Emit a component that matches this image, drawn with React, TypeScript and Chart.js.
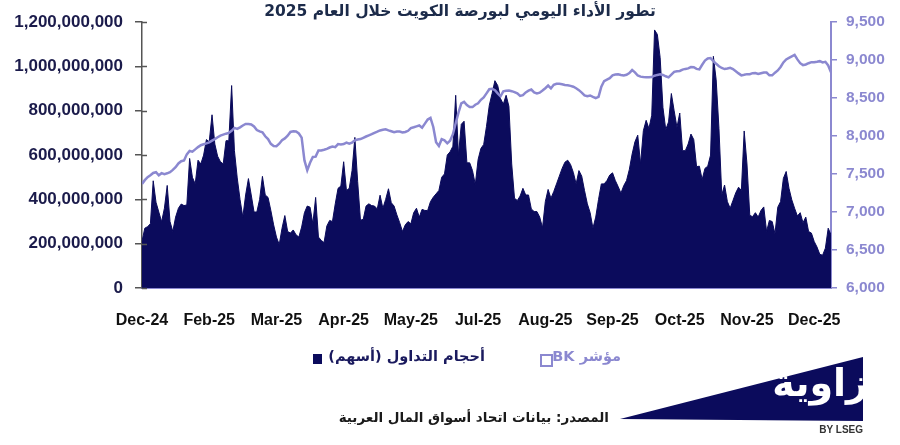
import React, { useEffect, useRef } from 'react';
import { Chart, registerables } from 'chart.js';

Chart.register(...registerables);

const TITLE = 'تطور الأداء اليومي لبورصة الكويت خلال العام 2025';
const LEGEND_VOLUME = 'أحجام التداول (أسهم)';
const LEGEND_BK = 'مؤشر BK';
const SOURCE = 'المصدر: بيانات اتحاد أسواق المال العربية';

const TICK_LABELS = ['Dec-24', 'Feb-25', 'Mar-25', 'Apr-25', 'May-25', 'Jul-25', 'Aug-25', 'Sep-25', 'Oct-25', 'Nov-25', 'Dec-25'];
const POINTS_PER_LABEL = 24;

// Daily traded volume, millions of shares
const VOLUME_M = [
  211, 270, 277, 290, 484, 387, 343, 299, 360, 463,
  300, 255, 320, 360, 379, 372, 375, 585, 500, 470,
  577, 560, 600, 670, 660, 782, 650, 595, 570, 560,
  665, 665, 914, 620, 497, 400, 320, 420, 494, 420,
  343, 343, 400, 504, 420, 409, 350, 285, 230, 196,
  270, 327, 255, 248, 262, 240, 230, 275, 340, 370,
  365, 290, 409, 230, 215, 205, 280, 305, 300, 380,
  450, 460, 570, 440, 450, 530, 680, 480, 306, 310,
  370, 380, 372, 370, 357, 419, 360, 400, 448, 385,
  370, 330, 295, 255, 285, 300, 290, 340, 360, 320,
  355, 350, 350, 390, 410, 425, 440, 500, 515, 600,
  615, 640, 870, 600, 739, 753, 565, 565, 530, 467,
  580, 630, 648, 730, 825, 878, 936, 914, 855, 830,
  870, 820, 560, 405, 395, 415, 450, 420, 420, 357,
  345, 345, 320, 272, 390, 445, 405, 435, 470, 505,
  540, 568, 577, 558, 522, 470, 530, 505, 440, 380,
  340, 270, 320, 400, 470, 470, 485, 510, 520, 485,
  458, 428, 462, 485, 535, 605, 660, 690, 560, 710,
  757, 720, 780, 1165, 1145, 1040, 815, 715, 750, 878,
  800, 725, 790, 620, 620, 650, 695, 670, 548, 550,
  490, 540, 550, 600, 1046, 940, 720, 420, 465, 390,
  360, 395, 430, 455, 440, 709, 560, 328, 322, 340,
  320, 350, 366, 255, 305, 300, 245, 365, 390, 495,
  526, 450, 398, 360, 325, 340, 295, 320, 255, 248,
  210, 185, 152, 148, 180, 270, 240,
];

// BK index close
const BK_INDEX = [
  7370, 7420, 7460, 7485, 7515, 7525, 7485, 7512, 7500, 7510,
  7525, 7555, 7590, 7640, 7670, 7680, 7760, 7805, 7795, 7825,
  7855, 7880, 7893, 7905, 7917, 7940, 7961, 7985, 8007, 8020,
  8032, 8043, 8070, 8108, 8095, 8115, 8140, 8160, 8160, 8154,
  8127, 8080, 8062, 8050, 7998, 7961, 7898, 7870, 7868, 7900,
  7946, 7970, 8005, 8055, 8065, 8060, 8035, 7980, 7680, 7550,
  7650, 7725, 7730, 7811, 7811, 7820, 7832, 7850, 7862, 7855,
  7895, 7890, 7895, 7915, 7902, 7915, 7945, 7955, 7961, 7978,
  7995, 8010, 8025, 8042, 8058, 8075, 8083, 8089, 8076, 8064,
  8052, 8060, 8060, 8048, 8055, 8070, 8105, 8116, 8128, 8140,
  8111, 8165, 8218, 8240, 8120, 7920, 7870, 7960, 7945, 7905,
  7940, 8025, 8170, 8310, 8430, 8450, 8408, 8382, 8382, 8413,
  8432, 8478, 8510, 8563, 8618, 8624, 8605, 8562, 8525, 8590,
  8598, 8600, 8592, 8580, 8563, 8530, 8540, 8575, 8598, 8613,
  8575, 8563, 8572, 8600, 8630, 8665, 8628, 8675, 8688, 8688,
  8682, 8674, 8670, 8662, 8650, 8630, 8605, 8573, 8537, 8525,
  8535, 8517, 8500, 8517, 8650, 8725, 8745, 8763, 8800, 8810,
  8815, 8806, 8800, 8808, 8830, 8870, 8840, 8798, 8783, 8777,
  8774, 8774, 8778, 8795, 8806, 8814, 8805, 8788, 8774, 8810,
  8847, 8855, 8858, 8875, 8885, 8892, 8910, 8908, 8885, 8880,
  8940, 8995, 9022, 9028, 8988, 8952, 8920, 8897, 8883, 8891,
  8900, 8883, 8855, 8826, 8800, 8807, 8816, 8816, 8829, 8831,
  8818, 8828, 8837, 8837, 8800, 8800, 8835, 8865, 8910, 8970,
  9010, 9030, 9050, 9070, 9010, 8960, 8935, 8943, 8960, 8974,
  8974, 8980, 8987, 8970, 8978, 8930, 8840,
];

const NAVY = '#0b0b5c';
const LAVENDER = '#8b88d0';
const AXIS_GREY = '#555555';

const innerTicks = {
  id: 'innerTicks',
  afterDatasetsDraw(chart: any) {
    const s = chart.scales.yVol;
    const ctx = chart.ctx;
    ctx.save();
    ctx.strokeStyle = AXIS_GREY;
    ctx.lineWidth = 1.5;
    s.ticks.forEach((t: any) => {
      const y = Math.round(s.getPixelForValue(t.value)) + 0.5;
      ctx.beginPath();
      ctx.moveTo(s.right, y);
      ctx.lineTo(s.right + 5, y);
      ctx.stroke();
    });
    ctx.restore();
  },
};

export default function App() {
  const canvasRef = useRef<HTMLCanvasElement | null>(null);

  useEffect(() => {
    if (!canvasRef.current) return;
    const volumeData = VOLUME_M.map((v, i) => ({ x: i, y: v * 1e6 }));
    const bkData = BK_INDEX.map((v, i) => ({ x: i, y: v }));
    const family = '"Liberation Sans", Arial, sans-serif';

    const chart = new Chart(canvasRef.current, {
      type: 'line',
      data: {
        datasets: [
          {
            label: LEGEND_BK,
            data: bkData,
            yAxisID: 'yBK',
            borderColor: LAVENDER,
            borderWidth: 2.5,
            pointRadius: 0,
            fill: false,
            tension: 0,
            order: 1,
          },
          {
            label: LEGEND_VOLUME,
            data: volumeData,
            yAxisID: 'yVol',
            borderColor: NAVY,
            backgroundColor: NAVY,
            borderWidth: 1,
            pointRadius: 0,
            fill: 'origin',
            tension: 0,
            order: 2,
          },
        ],
      },
      options: {
        responsive: false,
        animation: false,
        devicePixelRatio: 1,
        layout: { padding: { top: 15, left: 0, right: 0, bottom: 0 } },
        plugins: { legend: { display: false }, tooltip: { enabled: false }, title: { display: false } },
        scales: {
          x: {
            type: 'linear',
            min: 0,
            max: VOLUME_M.length - 1,
            afterBuildTicks: (s: any) => {
              s.ticks = TICK_LABELS.map((_, i) => ({ value: i * POINTS_PER_LABEL }));
            },
            afterFit: (s: any) => {
              s.height = 157;
            },
            ticks: {
              autoSkip: false,
              maxRotation: 0,
              minRotation: 0,
              padding: 15,
              color: '#111111',
              font: { family, size: 16, weight: 'bold' },
              callback: (v: any) => TICK_LABELS[Math.round(Number(v) / POINTS_PER_LABEL)] ?? '',
            },
            grid: { display: false },
            border: { display: true, color: LAVENDER, width: 2 },
          },
          yVol: {
            type: 'linear',
            position: 'left',
            min: 0,
            max: 1200000000,
            afterFit: (s: any) => {
              s.width = 142;
            },
            ticks: {
              stepSize: 200000000,
              padding: 12,
              color: '#1b1b4b',
              font: { family, size: 17, weight: 'bold' },
              callback: (v: any) => Number(v).toLocaleString('en-US'),
            },
            grid: { display: true, drawOnChartArea: false, drawTicks: true, tickLength: 7, color: AXIS_GREY, lineWidth: 1.5 },
            border: { display: true, color: AXIS_GREY, width: 1.5 },
          },
          yBK: {
            type: 'linear',
            position: 'right',
            min: 6000,
            max: 9500,
            afterFit: (s: any) => {
              s.width = 69;
            },
            ticks: {
              stepSize: 500,
              padding: 9,
              color: LAVENDER,
              font: { family, size: 15.5, weight: 'bold' },
              callback: (v: any) => Number(v).toLocaleString('en-US'),
            },
            grid: { display: true, drawOnChartArea: false, drawTicks: true, tickLength: 6, color: LAVENDER, lineWidth: 1.5 },
            border: { display: true, color: LAVENDER, width: 2 },
          },
        },
      },
      plugins: [innerTicks],
    } as any);

    return () => chart.destroy();
  }, []);

  const arabicFont = '"DejaVu Sans", "Noto Sans", sans-serif';

  return (
    <div style={{ position: 'fixed', left: 0, top: 0, width: 900, height: 445, background: '#ffffff', overflow: 'hidden' }}>
      <canvas ref={canvasRef} width={900} height={445} style={{ position: 'absolute', left: 0, top: 0, width: 900, height: 445, display: 'block' }} />
      <div
        dir="rtl"
        style={{ position: 'absolute', left: 240, width: 440, top: 2, textAlign: 'center', fontFamily: arabicFont, fontWeight: 'bold', fontSize: 15.5, color: '#1c2b4a', whiteSpace: 'nowrap' }}
      >
        {TITLE}
      </div>
      {/* legend */}
      <div style={{ position: 'absolute', left: 313, top: 354, width: 9, height: 10, background: NAVY }} />
      <div
        dir="rtl"
        style={{ position: 'absolute', right: 415, top: 348, fontFamily: arabicFont, fontWeight: 'bold', fontSize: 14.5, color: '#1a1a5e', whiteSpace: 'nowrap' }}
      >
        {LEGEND_VOLUME}
      </div>
      <div style={{ position: 'absolute', left: 540, top: 354, width: 9, height: 9, border: `2px solid ${LAVENDER}` }} />
      <div
        dir="rtl"
        style={{ position: 'absolute', right: 279, top: 348, fontFamily: arabicFont, fontWeight: 'bold', fontSize: 14.5, color: LAVENDER, whiteSpace: 'nowrap' }}
      >
        {LEGEND_BK}
      </div>
      {/* source */}
      <div
        dir="rtl"
        style={{ position: 'absolute', right: 291, top: 409, fontFamily: arabicFont, fontWeight: 'bold', fontSize: 13.5, color: '#1a1a1a', whiteSpace: 'nowrap' }}
      >
        {SOURCE}
      </div>
      {/* logo */}
      <svg width={900} height={445} style={{ position: 'absolute', left: 0, top: 0, pointerEvents: 'none' }}>
        <polygon points="620,419 863,357 863,421" fill={NAVY} />
      </svg>
      <div style={{ position: 'absolute', left: 760, top: 358, width: 103, height: 63, overflow: 'hidden' }}>
        <div
          dir="rtl"
          style={{ position: 'absolute', right: -5, top: -3, fontFamily: arabicFont, fontWeight: 'bold', fontSize: 38, lineHeight: '56px', color: '#ffffff', whiteSpace: 'nowrap' }}
        >
          زاوية
        </div>
      </div>
      <div
        style={{ position: 'absolute', right: 37, top: 424, fontFamily: '"Liberation Sans", Arial, sans-serif', fontWeight: 'bold', fontSize: 10, color: '#333333', whiteSpace: 'nowrap' }}
      >
        BY LSEG
      </div>
    </div>
  );
}
